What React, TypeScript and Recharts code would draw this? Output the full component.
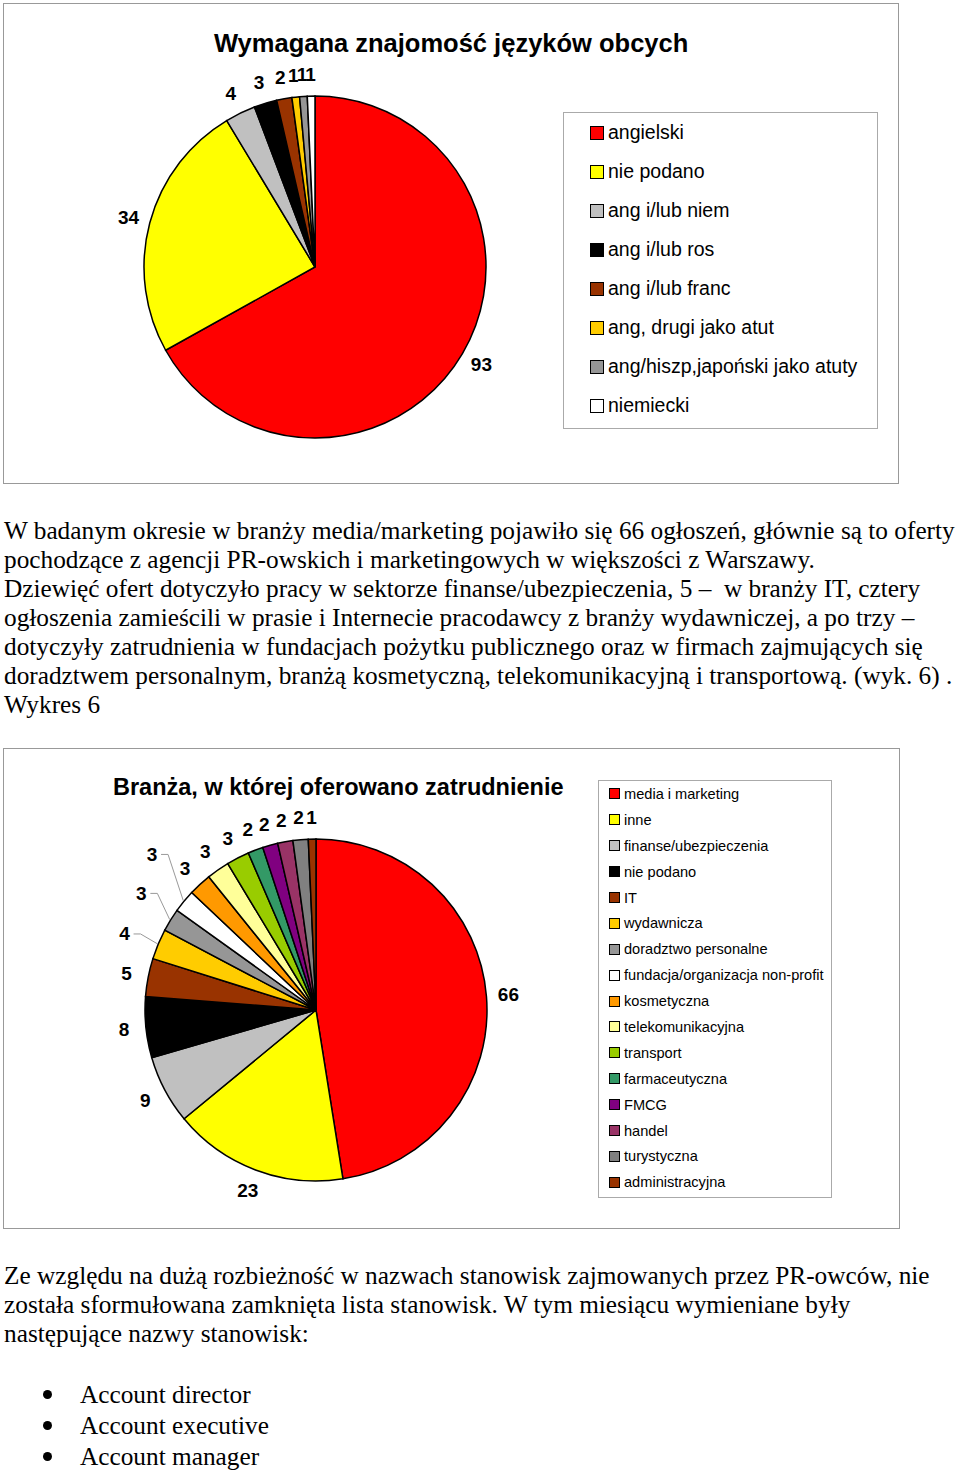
import { PieChart, Pie, Cell, Legend } from 'recharts';

const langNames = [
  'angielski', 'nie podano', 'ang i/lub niem', 'ang i/lub ros', 'ang i/lub franc',
  'ang, drugi jako atut', 'ang/hiszp,japoński jako atuty', 'niemiecki',
];
const langValues = [93, 34, 4, 3, 2, 1, 1, 1];
const langColors = ['#FF0000', '#FFFF00', '#C0C0C0', '#000000', '#993300', '#FFCC00', '#969696', '#FFFFFF'];

const branchNames = [
  'media i marketing', 'inne', 'finanse/ubezpieczenia', 'nie podano', 'IT', 'wydawnicza',
  'doradztwo personalne', 'fundacja/organizacja non-profit', 'kosmetyczna', 'telekomunikacyjna',
  'transport', 'farmaceutyczna', 'FMCG', 'handel', 'turystyczna', 'administracyjna',
];
const branchValues = [66, 23, 9, 8, 5, 4, 3, 3, 3, 3, 3, 2, 2, 2, 2, 1];
const branchColors = [
  '#FF0000', '#FFFF00', '#C0C0C0', '#000000', '#993300', '#FFCC00', '#969696', '#FFFFFF',
  '#FF9900', '#FFFF99', '#99CC00', '#339966', '#800080', '#993366', '#808080', '#993300',
];

const bodyLines = [
  'W badanym okresie w branży media/marketing pojawiło się 66 ogłoszeń, głównie są to oferty',
  'pochodzące z agencji PR-owskich i marketingowych w większości z Warszawy.',
  'Dziewięć ofert dotyczyło pracy w sektorze finanse/ubezpieczenia, 5 –  w branży IT, cztery',
  'ogłoszenia zamieścili w prasie i Internecie pracodawcy z branży wydawniczej, a po trzy –',
  'dotyczyły zatrudnienia w fundacjach pożytku publicznego oraz w firmach zajmujących się',
  'doradztwem personalnym, branżą kosmetyczną, telekomunikacyjną i transportową. (wyk. 6) .',
  'Wykres 6',
];
const closingLines = [
  'Ze względu na dużą rozbieżność w nazwach stanowisk zajmowanych przez PR-owców, nie',
  'została sformułowana zamknięta lista stanowisk. W tym miesiącu wymieniane były',
  'następujące nazwy stanowisk:',
];
const positions = ['Account director', 'Account executive', 'Account manager'];

const RAD = Math.PI / 180;
const SANS = 'Arial, "Liberation Sans", sans-serif';
const SERIF = '"Times New Roman", "Liberation Serif", serif';

// labels that Excel pulled out with a leader line: index -> [extra radius, angle shift]
const pulled: Record<number, [number, number]> = { 5: [13, 1], 6: [17, -2], 7: [33, -4] };

function makeLabel(gap: number, pulledOut: Record<number, [number, number]>) {
  return (p: any) => {
    const { cx, cy, midAngle, outerRadius, value, index } = p;
    const [extra, shift] = pulledOut[index] ?? [0, 0];
    const r = outerRadius + gap + extra;
    const a = midAngle + shift;
    const x = cx + r * Math.cos(-a * RAD);
    const y = cy + r * Math.sin(-a * RAD);
    const ex = cx + (outerRadius + 1) * Math.cos(-midAngle * RAD);
    const ey = cy + (outerRadius + 1) * Math.sin(-midAngle * RAD);
    return (
      <g key={`l${index}`}>
        {extra > 0 && (
          <polyline
            points={`${ex},${ey} ${x + 16},${y} ${x + 9},${y}`}
            fill="none"
            stroke="#999"
            strokeWidth={1}
          />
        )}
        <text
          x={x}
          y={y}
          textAnchor="middle"
          dominantBaseline="central"
          fontFamily={SANS}
          fontWeight="bold"
          fontSize={19}
          fill="#000"
        >
          {value}
        </text>
      </g>
    );
  };
}

function LegendBox({ names, colors, fontSize, step, sq, padLeft }: {
  names: string[]; colors: string[]; fontSize: number; step: number; sq: number; padLeft: number;
}) {
  return (
    <div style={{ border: '1px solid #aaa', background: '#fff', paddingLeft: padLeft, boxSizing: 'border-box', height: '100%' }}>
      {names.map((n, i) => (
        <div key={n} style={{ height: step, display: 'flex', alignItems: 'center', fontFamily: SANS, fontSize, color: '#000', whiteSpace: 'nowrap' }}>
          <span style={{ width: sq, height: sq, background: colors[i], border: '1px solid #000', marginRight: 4, flexShrink: 0 }} />
          {n}
        </div>
      ))}
    </div>
  );
}

export default function App() {
  const langData = langNames.map((name, i) => ({ name, value: langValues[i] }));
  const branchData = branchNames.map((name, i) => ({ name, value: branchValues[i] }));

  return (
    <div style={{ position: 'absolute', left: 0, top: 0, width: 960, height: 1470, background: '#fff', overflow: 'hidden' }}>
      {/* chart 1 */}
      <div style={{ position: 'absolute', left: 3, top: 3, width: 896, height: 481, border: '1px solid #999', boxSizing: 'border-box' }}>
        <div style={{ position: 'absolute', left: 210, top: 25, fontFamily: SANS, fontWeight: 'bold', fontSize: 25.5, whiteSpace: 'nowrap' }}>
          Wymagana znajomość języków obcych
        </div>
        <PieChart width={894} height={479}>
          <Pie
            data={langData}
            dataKey="value"
            cx={306}
            cy={258}
            outerRadius={171}
            startAngle={90}
            endAngle={-270}
            stroke="#000"
            strokeWidth={1.5}
            labelLine={false}
            label={makeLabel(22, {})}
            isAnimationActive={false}
          >
            {langData.map((_, i) => <Cell key={i} fill={langColors[i]} />)}
          </Pie>
          <Legend
            layout="vertical"
            verticalAlign="top"
            align="right"
            wrapperStyle={{ left: 559, top: 108, width: 315, height: 317 }}
            content={() => (
              <LegendBox names={langNames} colors={langColors} fontSize={19.5} step={39} sq={12} padLeft={26} />
            )}
          />
        </PieChart>
      </div>

      {/* text */}
      <div style={{ position: 'absolute', left: 4, top: 516, fontFamily: SERIF, fontSize: 25.3, lineHeight: '29px', color: '#000' }}>
        {bodyLines.map((l, i) => <div key={i} style={{ whiteSpace: 'pre' }}>{l}</div>)}
      </div>

      {/* chart 2 */}
      <div style={{ position: 'absolute', left: 3, top: 748, width: 897, height: 481, border: '1px solid #999', boxSizing: 'border-box' }}>
        <div style={{ position: 'absolute', left: 109, top: 25, fontFamily: SANS, fontWeight: 'bold', fontSize: 23.5, whiteSpace: 'nowrap' }}>
          Branża, w której oferowano zatrudnienie
        </div>
        <PieChart width={895} height={479}>
          <Pie
            data={branchData}
            dataKey="value"
            cx={307}
            cy={256}
            outerRadius={171}
            startAngle={90}
            endAngle={-270}
            stroke="#000"
            strokeWidth={1.5}
            labelLine={false}
            label={makeLabel(22, pulled)}
            isAnimationActive={false}
          >
            {branchData.map((_, i) => <Cell key={i} fill={branchColors[i]} />)}
          </Pie>
          <Legend
            layout="vertical"
            verticalAlign="top"
            align="right"
            wrapperStyle={{ left: 594, top: 31, width: 234, height: 418 }}
            content={() => (
              <LegendBox names={branchNames} colors={branchColors} fontSize={14.6} step={25.9} sq={9} padLeft={10} />
            )}
          />
        </PieChart>
      </div>

      {/* closing text */}
      <div style={{ position: 'absolute', left: 4, top: 1261, fontFamily: SERIF, fontSize: 25.3, lineHeight: '29px', color: '#000' }}>
        {closingLines.map((l, i) => <div key={i} style={{ whiteSpace: 'pre' }}>{l}</div>)}
      </div>
      <div style={{ position: 'absolute', left: 0, top: 1379, fontFamily: SERIF, fontSize: 25.3, lineHeight: '31px', color: '#000' }}>
        {positions.map((l) => (
          <div key={l} style={{ display: 'flex', alignItems: 'center', whiteSpace: 'nowrap' }}>
            <span style={{ width: 9, height: 9, borderRadius: '50%', background: '#000', marginLeft: 43, marginRight: 28 }} />
            {l}
          </div>
        ))}
      </div>
    </div>
  );
}
